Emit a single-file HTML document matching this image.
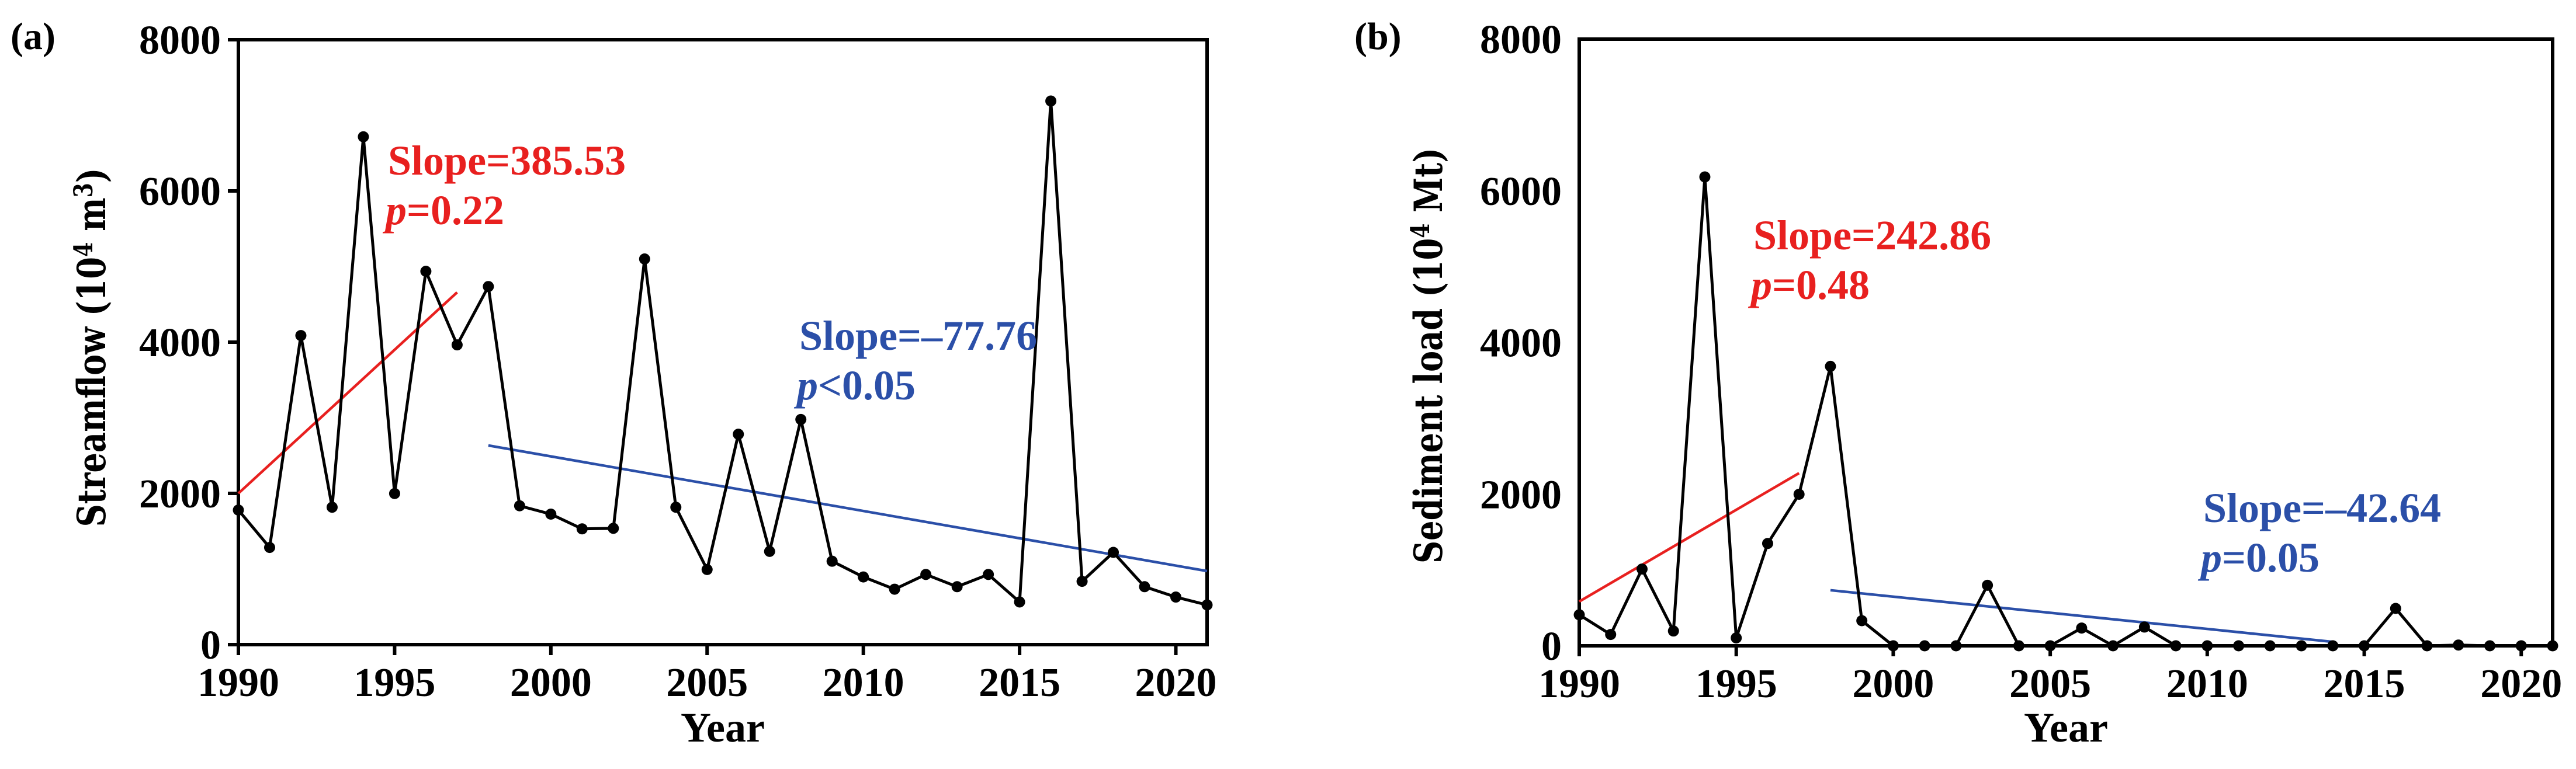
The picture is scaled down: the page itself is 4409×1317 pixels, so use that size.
<!DOCTYPE html>
<html><head><meta charset="utf-8"><style>
html,body{margin:0;padding:0;background:#fff;}
svg{display:block;font-family:"Liberation Serif",serif;font-weight:bold;}
</style></head><body>
<svg id="fig" width="4409" height="1317" viewBox="0 0 4409 1317" xmlns="http://www.w3.org/2000/svg">
<rect width="4409" height="1317" fill="#fff"/>
</svg>
<script>
const years = [1990,1991,1992,1993,1994,1995,1996,1997,1998,1999,2000,2001,2002,2003,2004,2005,2006,2007,2008,2009,2010,2011,2012,2013,2014,2015,2016,2017,2018,2019,2020,2021];
const streamflow = [1780,1285,4088,1817,6716,1998,4937,3964,4736,1836,1726,1531,1538,5100,1817,993,2783,1233,2978,1103,895,733,928,766,928,564,7189,837,1220,766,629,525];
const sediment = [409,149,1012,195,6183,104,1349,1998,3685,331,0,0,0,798,0,0,234,0,247,0,0,0,0,0,0,0,493,0,10,0,0,0];
const yTicks = [0,2000,4000,6000,8000];
const xTicks = [1990,1995,2000,2005,2010,2015,2020];
const trendA_red = [[1990,2000],[1997,4659]];
const trendA_blue = [[1998,2634],[2021,973]];
const trendB_red = [[1990,584],[1997,2277]];
const trendB_blue = [[1998,733],[2014,52]];

const NS = "http://www.w3.org/2000/svg";
const svg = document.getElementById('fig');
function mk(tag, attrs, parent){const e=document.createElementNS(NS,tag);for(const k in attrs)e.setAttribute(k,attrs[k]);(parent||svg).appendChild(e);return e;}

function panel(cfg){
  const g = mk('g',{});
  
  
  const X = yr => cfg.x0 + (yr-1990)/(2021-1990)*(cfg.x1-cfg.x0);
  const Y = v => cfg.y1 - v/8000*(cfg.y1-cfg.y0);
  const fr = mk('rect',{x:cfg.x0,y:cfg.y0,width:cfg.x1-cfg.x0,height:cfg.y1-cfg.y0,fill:'none',stroke:'#000','stroke-width':6},g);
  
  
  yTicks.forEach(t=>{
    if (cfg.yticks) {
      const l = mk('line',{x1:cfg.x0-18,x2:cfg.x0,y1:Y(t),y2:Y(t),stroke:'#000','stroke-width':6},g);
      
      
    }
    const tx = mk('text',{x:cfg.x0-30,y:Y(t)+24,'text-anchor':'end','font-size':70},g);
    tx.textContent = t;
    
    
  });
  xTicks.forEach(t=>{
    const l = mk('line',{x1:X(t),x2:X(t),y1:cfg.y1,y2:cfg.y1+18,stroke:'#000','stroke-width':6},g);
    
    
    const tx = mk('text',{x:X(t),y:cfg.y1+88,'text-anchor':'middle','font-size':70},g);
    tx.textContent = t;
    
    
  });
  const xt = mk('text',{x:(cfg.x0+cfg.x1)/2,y:1270,'text-anchor':'middle','font-size':72},g);
  xt.textContent='Year';
  
  
  const yt = mk('text',{x:0,y:0,'text-anchor':'middle','font-size':66,'font-family':'"DejaVu Serif",serif',transform:`translate(${cfg.ytx},${cfg.ytc}) rotate(-90)`,textLength:cfg.ytl,lengthAdjust:'spacingAndGlyphs'},g);
  yt.innerHTML = cfg.ytitle;
  
  
  const pl = mk('text',{x:cfg.lx,y:84,'font-size':66},g);
  pl.textContent = cfg.label;
  
  
  [[cfg.red,'#e8201f'],[cfg.blue,'#2b4fa8']].forEach(([t,c])=>{
    const l = mk('line',{x1:X(t[0][0]),y1:Y(t[0][1]),x2:X(t[1][0]),y2:Y(t[1][1]),stroke:c,'stroke-width':4.5},g);
    
    
  });
  const pts = years.map((yr,i)=>X(yr)+','+Y(cfg.data[i])).join(' ');
  const pline = mk('polyline',{points:pts,fill:'none',stroke:'#000','stroke-width':5,'stroke-linejoin':'round'},g);
  
  
  years.forEach((yr,i)=>{
    const c = mk('circle',{cx:X(yr),cy:Y(cfg.data[i]),r:9.5,fill:'#000'},g);
    
    
  });
  const a1 = mk('text',{x:cfg.rx,y:cfg.ry,'font-size':72,fill:'#e8201f'},g);
  a1.textContent = cfg.rs;
  
  
  const a2 = mk('text',{x:cfg.rx-4,y:cfg.ry+85,'font-size':72,fill:'#e8201f'},g);
  a2.innerHTML = '<tspan font-style="italic">p</tspan>'+cfg.rp;
  
  
  const b1 = mk('text',{x:cfg.bx,y:cfg.by,'font-size':72,fill:'#2b4fa8'},g);
  b1.textContent = cfg.bs;
  
  
  const b2 = mk('text',{x:cfg.bx-4,y:cfg.by+85,'font-size':72,fill:'#2b4fa8'},g);
  b2.innerHTML = '<tspan font-style="italic">p</tspan>'+cfg.bp.replace('<','&lt;');
  
  
}

panel({id:'panel-a-streamflow',x0:408,x1:2066,y0:68,y1:1104,yticks:true,data:streamflow,red:trendA_red,blue:trendA_blue,
  ytitle:'Streamflow (10<tspan dy="-22" font-size="44">4</tspan><tspan dy="22"> m</tspan><tspan dy="-22" font-size="44">3</tspan><tspan dy="22">)</tspan>',
  ytx:180,ytc:595,ytl:615,lx:18,label:'(a)',
  rx:664,ry:299,rs:'Slope=385.53',rp:'=0.22',bx:1368,by:599,bs:'Slope=\u201377.76',bp:'<0.05'});
panel({id:'panel-b-sediment',x0:2703,x1:4369,y0:67,y1:1106,yticks:false,data:sediment,red:trendB_red,blue:trendB_blue,
  ytitle:'Sediment load (10<tspan dy="-22" font-size="44">4</tspan><tspan dy="22"> Mt)</tspan>',
  ytx:2468,ytc:609,ytl:712,lx:2318,label:'(b)',
  rx:3001,ry:427,rs:'Slope=242.86',rp:'=0.48',bx:3771,by:894,bs:'Slope=\u201342.64',bp:'=0.05'});
</script>
</body></html>
